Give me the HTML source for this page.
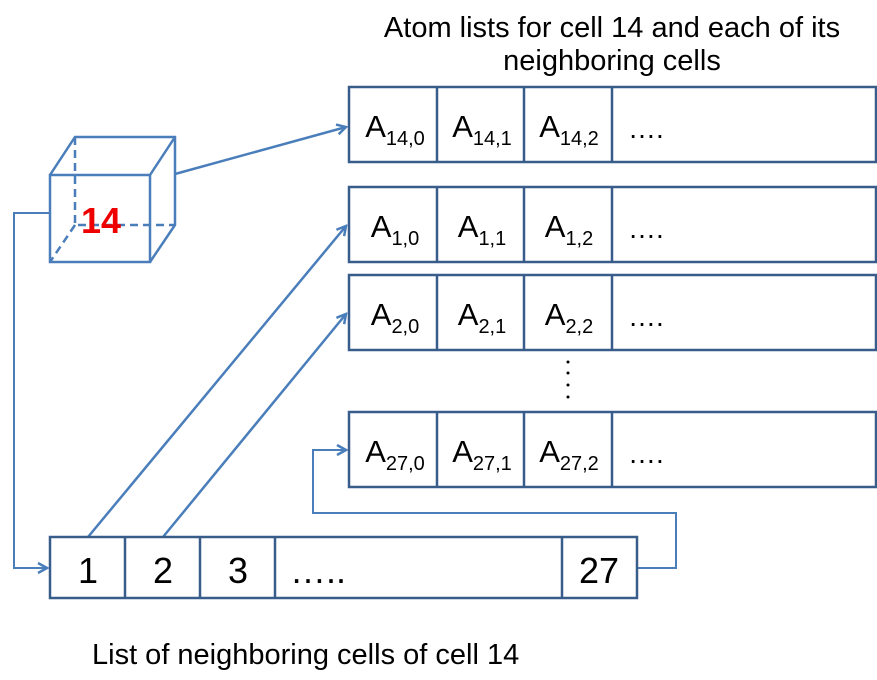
<!DOCTYPE html>
<html><head><style>body{margin:0;background:#fff}</style></head><body>
<svg width="877" height="675" xmlns="http://www.w3.org/2000/svg" font-family="Liberation Sans, sans-serif">
<defs><marker id="a" markerWidth="12" markerHeight="12" refX="10" refY="6" orient="auto" markerUnits="userSpaceOnUse"><path d="M1,1 L10,6 L1,11" fill="none" stroke="#4a7ebb" stroke-width="2.5"/></marker></defs>
<text x="612" y="37" font-size="29" text-anchor="middle">Atom lists for cell 14 and each of its</text>
<text x="612" y="70" font-size="29" text-anchor="middle">neighboring cells</text>
<g stroke="#4a7ebb" stroke-width="2.5" fill="none">
<rect x="50" y="175" width="100" height="87"/>
<path d="M50,175 L75,137 L175,137 L175,225 L150,262 M150,175 L175,137"/>
<path d="M75,137 V225 H175 M75,225 L50,262" stroke-dasharray="8,5"/>
</g>
<text x="101" y="233" font-size="36" font-weight="bold" fill="#e00" text-anchor="middle">14</text>
<g stroke="#4a7ebb" stroke-width="2.5" fill="none" marker-end="url(#a)">
<path d="M175,174 L346,127"/>
<path d="M88,537 L346,226"/>
<path d="M163,537 L346,314"/>
<path d="M50,213 H14 V568 H47" stroke-width="2"/>
<path d="M637,568 H676 V513 H313 V450 H346" stroke-width="2"/>
</g>
<g stroke="#385d8a" stroke-width="2.5" fill="none">
<rect x="349" y="87" width="527" height="75"/><path d="M437,87V162M524,87V162M612,87V162"/>
<rect x="349" y="187" width="527" height="75"/><path d="M437,187V262M524,187V262M612,187V262"/>
<rect x="349" y="275" width="527" height="75"/><path d="M437,275V350M524,275V350M612,275V350"/>
<rect x="349" y="412" width="527" height="75"/><path d="M437,412V487M524,412V487M612,412V487"/>
<rect x="50" y="537" width="587" height="61"/><path d="M125,537V598M200,537V598M275,537V598M562,537V598"/>
</g>
<g font-size="31" text-anchor="middle">
<text x="395" y="137">A<tspan font-size="20" dy="8">14,0</tspan></text>
<text x="482" y="137">A<tspan font-size="20" dy="8">14,1</tspan></text>
<text x="569" y="137">A<tspan font-size="20" dy="8">14,2</tspan></text>
<text x="395" y="237">A<tspan font-size="20" dy="8">1,0</tspan></text>
<text x="482" y="237">A<tspan font-size="20" dy="8">1,1</tspan></text>
<text x="569" y="237">A<tspan font-size="20" dy="8">1,2</tspan></text>
<text x="395" y="325">A<tspan font-size="20" dy="8">2,0</tspan></text>
<text x="482" y="325">A<tspan font-size="20" dy="8">2,1</tspan></text>
<text x="569" y="325">A<tspan font-size="20" dy="8">2,2</tspan></text>
<text x="395" y="462">A<tspan font-size="20" dy="8">27,0</tspan></text>
<text x="482" y="462">A<tspan font-size="20" dy="8">27,1</tspan></text>
<text x="569" y="462">A<tspan font-size="20" dy="8">27,2</tspan></text>
</g>
<g font-size="28">
<text x="628" y="138">….</text><text x="628" y="238">….</text><text x="628" y="326">….</text><text x="628" y="463">….</text>
</g>
<g fill="#000"><circle cx="568" cy="362" r="1.5"/><circle cx="568" cy="373" r="1.5"/><circle cx="568" cy="385" r="1.5"/><circle cx="568" cy="397" r="1.5"/></g>
<g font-size="36" text-anchor="middle">
<text x="88" y="583">1</text><text x="163" y="583">2</text><text x="238" y="583">3</text><text x="599" y="583">27</text>
</g>
<text x="290" y="583" font-size="36">…..</text>
<text x="92" y="664" font-size="29">List of neighboring cells of cell 14</text>
</svg>
</body></html>
